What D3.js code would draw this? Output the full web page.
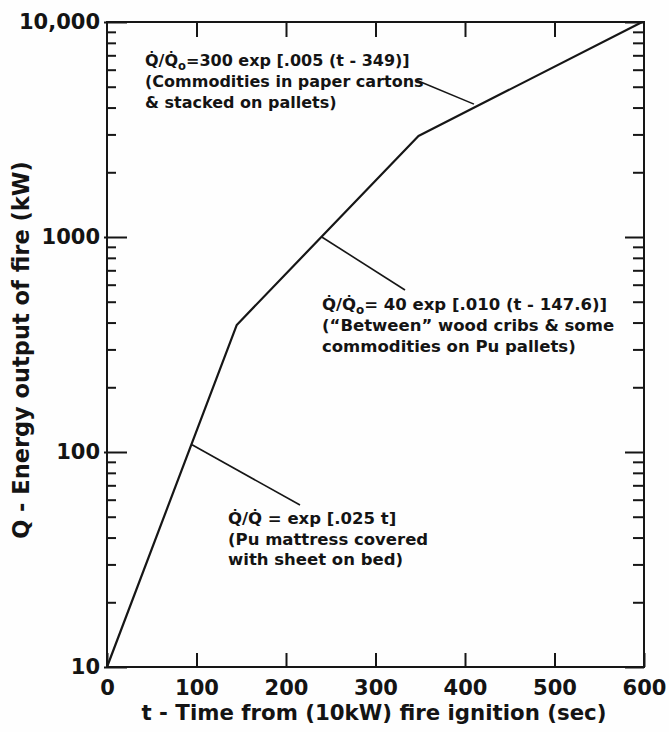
<!DOCTYPE html>
<html lang="en">
<head>
    <meta charset="UTF-8">
    <title>Energy output of fire vs time</title>
    <script src="https://d3js.org/d3.v7.min.js"></script>
    <style>
        body {
            margin: 0;
            background-color: #fefefe;
        }
        svg text {
            font-family: "DejaVu Sans", sans-serif;
            fill: #141414;
        }
    </style>
</head>
<body>
    <div id="chart"></div>

    <script>
        // piecewise growth curve
        const timeSec = [0, 145, 348, 598];
        const energyKW = [10, 390, 2950, 10000];

        const xTicks = [0, 100, 200, 300, 400, 500, 600];
        const yMajor = [10, 100, 1000, 10000];
        const yTickLabels = ["10", "100", "1000", "10,000"];
        const yMinor = [10, 100, 1000].flatMap(d => [2, 3, 4, 5, 6, 7, 8, 9].map(k => d * k));

        const xTitle = "t - Time from (10kW) fire ignition (sec)";
        const yTitle = "Q - Energy output of fire (kW)";

        // annotation text lines (first line follows the Q/Qo prefix)
        const note1 = ["=300 exp [.005 (t - 349)]", "(Commodities in paper cartons", "& stacked on pallets)"];
        const note2 = ["= 40 exp [.010 (t - 147.6)]", "(\u201cBetween\u201d wood cribs & some", "commodities on Pu pallets)"];
        const note3 = [" = exp [.025 t]", "(Pu mattress covered", "with sheet on bed)"];

        const width = 669, height = 732;
        const plot = { left: 107, right: 644, top: 22, bottom: 667 };

        const svg = d3.select("#chart")
            .append("svg")
            .attr("width", width)
            .attr("height", height);

        const x = d3.scaleLinear().domain([0, 600]).range([plot.left, plot.right]);
        const y = d3.scaleLog().domain([10, 10000]).range([plot.bottom, plot.top]);

        const ink = "#161616";

        // frame
        svg.append("rect")
            .attr("x", plot.left).attr("y", plot.top)
            .attr("width", plot.right - plot.left)
            .attr("height", plot.bottom - plot.top)
            .attr("fill", "none")
            .attr("stroke", ink)
            .attr("stroke-width", 2);

        function styleAxis(g) {
            g.select(".domain").remove();
            g.selectAll(".tick line").attr("stroke", ink).attr("stroke-width", 2);
        }

        // bottom axis with labels
        const bottom = svg.append("g")
            .attr("transform", `translate(0,${plot.bottom})`)
            .call(d3.axisBottom(x).tickValues(xTicks).tickSizeInner(-14).tickSizeOuter(0).tickPadding(13))
            .call(styleAxis);
        bottom.selectAll(".tick text")
            .attr("font-size", 21)
            .attr("font-weight", "bold")
            .attr("fill", ink);

        // top axis ticks only
        svg.append("g")
            .attr("transform", `translate(0,${plot.top})`)
            .call(d3.axisTop(x).tickValues(xTicks.slice(1, -1)).tickSizeInner(-15).tickSizeOuter(0).tickFormat(""))
            .call(styleAxis);

        // left axis: majors with labels, minors inward
        const left = svg.append("g")
            .attr("transform", `translate(${plot.left},0)`)
            .call(d3.axisLeft(y).tickValues(yMajor).tickSizeInner(-20).tickSizeOuter(0).tickPadding(7)
                .tickFormat((d, i) => yTickLabels[i]))
            .call(styleAxis);
        left.selectAll(".tick line").attr("x1", -3);
        left.selectAll(".tick text")
            .attr("font-size", 21)
            .attr("font-weight", "bold")
            .attr("fill", ink);

        svg.append("g")
            .attr("transform", `translate(${plot.left},0)`)
            .call(d3.axisLeft(y).tickValues(yMinor).tickSizeInner(-9).tickSizeOuter(0).tickFormat(""))
            .call(styleAxis);

        // right axis ticks
        svg.append("g")
            .attr("transform", `translate(${plot.right},0)`)
            .call(d3.axisRight(y).tickValues(yMajor).tickSizeInner(-19).tickSizeOuter(0).tickFormat(""))
            .call(styleAxis);
        svg.append("g")
            .attr("transform", `translate(${plot.right},0)`)
            .call(d3.axisRight(y).tickValues(yMinor).tickSizeInner(-11).tickSizeOuter(0).tickFormat(""))
            .call(styleAxis);

        // curve
        const pts = timeSec.map((t, i) => [t, energyKW[i]]);
        svg.append("path")
            .datum(pts)
            .attr("fill", "none")
            .attr("stroke", ink)
            .attr("stroke-width", 2.2)
            .attr("stroke-linejoin", "round")
            .attr("d", d3.line().x(d => x(d[0])).y(d => y(d[1])));

        // leader lines: [t, Q] on curve -> pixel point near text
        const leaders = [
            { from: [410, 4150], to: [416, 80] },
            { from: [240, 1000], to: [405, 290] },
            { from: [95, 108], to: [300, 505] }
        ];
        svg.selectAll(".leader")
            .data(leaders)
            .enter()
            .append("line")
            .attr("class", "leader")
            .attr("x1", d => x(d.from[0]))
            .attr("y1", d => y(d.from[1]))
            .attr("x2", d => d.to[0])
            .attr("y2", d => d.to[1])
            .attr("stroke", ink)
            .attr("stroke-width", 1.6);

        // annotation blocks
        function note(lines, x0, y0, sub, lh, fs) {
            const g = svg.append("g").attr("font-size", fs).attr("font-weight", "bold");
            const first = g.append("text").attr("x", x0).attr("y", y0);
            first.append("tspan").text("Q\u0307/Q\u0307");
            if (sub) {
                first.append("tspan").attr("font-size", fs * 0.72).attr("dy", 4).text("o");
                first.append("tspan").attr("dy", -4).text(lines[0]);
            } else {
                first.append("tspan").text(lines[0]);
            }
            lines.slice(1).forEach((s, i) => {
                g.append("text").attr("x", x0).attr("y", y0 + lh * (i + 1)).text(s);
            });
        }
        note(note1, 145, 66, true, 21, 16);
        note(note2, 322, 310, true, 21, 16.5);
        note(note3, 228, 524, false, 20.5, 16.5);

        // axis titles
        svg.append("text")
            .attr("x", 374)
            .attr("y", 720)
            .attr("text-anchor", "middle")
            .attr("font-size", 21.3)
            .attr("font-weight", "bold")
            .text(xTitle);

        svg.append("text")
            .attr("transform", "translate(29,350) rotate(-90)")
            .attr("text-anchor", "middle")
            .attr("font-size", 22.5)
            .attr("font-weight", "bold")
            .text(yTitle);
    </script>
</body>
</html>
